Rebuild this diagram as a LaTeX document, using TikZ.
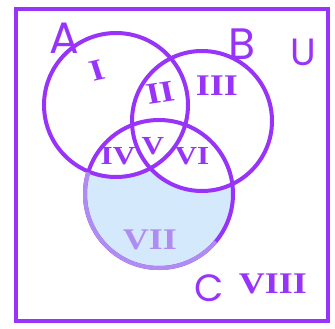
\documentclass[tikz,border=0pt]{standalone}
\usepackage{fontspec}
\newfontfamily\handfont{Poppins}
\newfontfamily\numfont{Liberation Serif}
\definecolor{vpurple}{RGB}{152,52,250}
\definecolor{vlight}{RGB}{176,140,242}
\definecolor{vblue}{RGB}{212,234,252}
\tikzset{
  ring/.style={draw=vpurple, line width=4pt},
  setlbl/.style={text=vpurple, font=\handfont\fontsize{44}{44}\selectfont, inner sep=0pt},
  reglbl/.style={text=vpurple, font=\numfont\bfseries\fontsize{30}{30}\selectfont, inner sep=0pt, xscale=1.2},
  smallreg/.style={font=\numfont\bfseries\fontsize{26}{26}\selectfont},
}
\begin{document}
\begin{tikzpicture}[x=1pt,y=-1pt]
\useasboundingbox (0,0) rectangle (335,329);
\fill[white] (0,0) rectangle (335,329);
\coordinate (cA) at (116,105);
\coordinate (cB) at (202,121);
\coordinate (cC) at (159,194);
% shaded region C minus (A or B)
\fill[vblue] (cC) circle (76);
\fill[white] (cA) circle (71);
\fill[white] (cB) circle (70);
% universe
\draw[ring] (15.5,9.5) rectangle (328,321);
% circles
\draw[ring] (cA) circle (72);
\draw[ring] (cB) circle (70);
\draw[ring] (cC) circle (74);
\draw[draw=vlight, line width=4pt] (cC) ++(40:74) arc[start angle=40, end angle=197, radius=74];
% set labels
\node[setlbl] (lA) at (64,38) {A};
\node[setlbl] (lB) at (242,44) {B};
\node[setlbl, font=\handfont\fontsize{38}{38}\selectfont] (lU) at (303,52) {U};
\node[setlbl, font=\handfont\fontsize{38}{38}\selectfont] (lC) at (209,288) {C};
% region labels
\node[reglbl, rotate=15] (r1) at (97,71) {I};
\node[reglbl, rotate=10] (r2) at (160,93) {II};
\node[reglbl] (r3) at (217,86) {III};
\node[reglbl, smallreg] (r4) at (118,156) {IV};
\node[reglbl, smallreg] (r5) at (153,146) {V};
\node[reglbl, smallreg] (r6) at (192,156) {VI};
\node[reglbl, text=vlight] (r7) at (150,240) {VII};
\node[reglbl] (r8) at (273,284) {VIII};
\end{tikzpicture}
\end{document}
